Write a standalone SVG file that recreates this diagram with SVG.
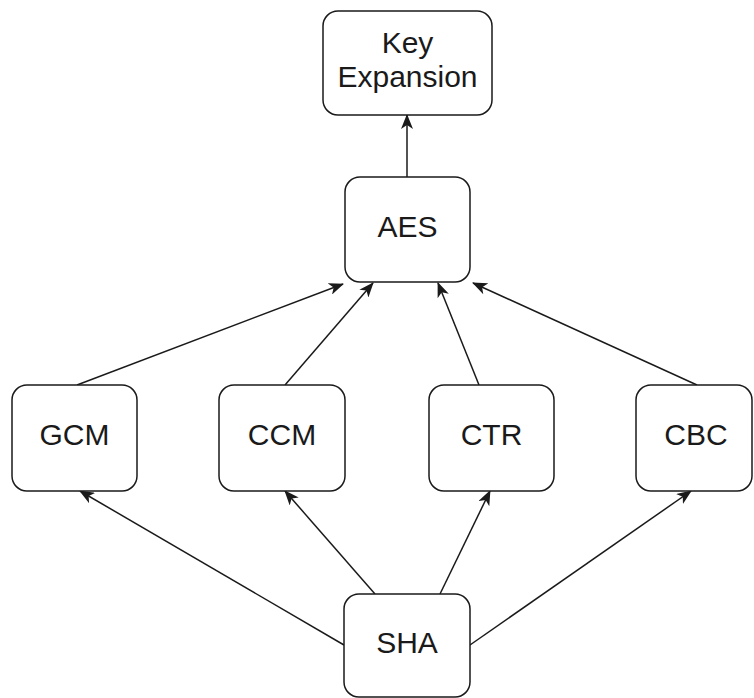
<svg xmlns="http://www.w3.org/2000/svg" width="754" height="698" viewBox="0 0 754 698">
  <defs>
    <style>
      .box { fill: #ffffff; stroke: #1a1a1a; stroke-width: 1.5; }
      .lbl { font-family: "Liberation Sans", Arial, Helvetica, sans-serif; font-size: 30px; fill: #1a1a1a; text-anchor: middle; }
      .edge { fill: none; stroke: #1a1a1a; stroke-width: 1.5; marker-end: url(#arrow); }
    </style>
    <marker id="arrow" markerUnits="userSpaceOnUse" markerWidth="15" markerHeight="12" viewBox="0 0 15 12" refX="14" refY="6" orient="auto">
      <path d="M0,0 L15,6 L0,12 L4,6 Z" fill="#1a1a1a"/>
    </marker>
  </defs>
  <rect width="754" height="698" fill="#ffffff"/>

  <g id="edges">
    <line class="edge" x1="407" y1="177" x2="407" y2="115"/>
    <line class="edge" x1="77" y1="385" x2="343" y2="284"/>
    <line class="edge" x1="285" y1="385" x2="373" y2="283"/>
    <line class="edge" x1="479" y1="385" x2="438" y2="283"/>
    <line class="edge" x1="697" y1="385" x2="473" y2="283"/>
    <line class="edge" x1="344" y1="645" x2="80" y2="491"/>
    <line class="edge" x1="375" y1="594" x2="285" y2="491"/>
    <line class="edge" x1="440" y1="594" x2="490" y2="491"/>
    <line class="edge" x1="470" y1="645" x2="691" y2="491"/>
  </g>

  <g id="key-expansion">
    <rect class="box" x="323" y="11" width="169" height="104" rx="15"/>
    <text class="lbl" x="407.5" y="53">Key</text>
    <text class="lbl" x="407.5" y="87">Expansion</text>
  </g>
  <g id="aes">
    <rect class="box" x="345" y="177" width="125" height="105" rx="15"/>
    <text class="lbl" x="407.5" y="237">AES</text>
  </g>
  <g id="gcm">
    <rect class="box" x="12" y="385" width="125" height="106" rx="15"/>
    <text class="lbl" x="74.5" y="445">GCM</text>
  </g>
  <g id="ccm">
    <rect class="box" x="219" y="385" width="126" height="106" rx="15"/>
    <text class="lbl" x="282" y="445">CCM</text>
  </g>
  <g id="ctr">
    <rect class="box" x="429" y="385" width="125" height="106" rx="15"/>
    <text class="lbl" x="491.5" y="445">CTR</text>
  </g>
  <g id="cbc">
    <rect class="box" x="636" y="385" width="116" height="106" rx="15"/>
    <text class="lbl" x="696" y="445">CBC</text>
  </g>
  <g id="sha">
    <rect class="box" x="344" y="594" width="126" height="103" rx="15"/>
    <text class="lbl" x="407" y="653">SHA</text>
  </g>
</svg>
